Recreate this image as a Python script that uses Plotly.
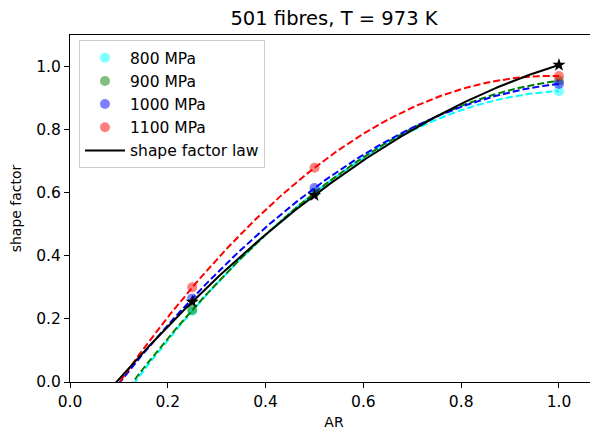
import numpy as np
import plotly.graph_objects as go

AR = [0.25, 0.5, 1.0]
labels = ["800 MPa", "900 MPa", "1000 MPa", "1100 MPa"]
colors = ["cyan", "green", "blue", "red"]
sf_800 = [0.225, 0.600, 0.922]
sf_900 = [0.228, 0.600, 0.955]
sf_1000 = [0.265, 0.615, 0.945]
sf_1100 = [0.300, 0.679, 0.970]
law_vals = [0.254, 0.592, 1.005]
series = [sf_800, sf_900, sf_1000, sf_1100]

x_fit = np.linspace(0, 1, 200)

fig = go.Figure()
for lab, col, vals in zip(labels, colors, series):
    fig.add_trace(go.Scatter(x=AR, y=vals, mode="markers", name=lab,
                             marker=dict(color=col, size=10, opacity=0.5, line=dict(width=0))))
    coef = np.polyfit(AR, vals, 2)
    fig.add_trace(go.Scatter(x=x_fit, y=np.polyval(coef, x_fit), mode="lines", showlegend=False,
                             line=dict(color=col, width=2, dash="7px,3px")))

coef = np.polyfit(AR, law_vals, 2)
fig.add_trace(go.Scatter(x=x_fit, y=np.polyval(coef, x_fit), mode="lines", name="shape factor law",
                         line=dict(color="black", width=2)))
fig.add_trace(go.Scatter(x=AR, y=law_vals, mode="markers", showlegend=False,
                         marker=dict(color="black", symbol="star", size=10)))

axis_common = dict(showgrid=False, zeroline=False, showline=True, linecolor="black", linewidth=1,
                   ticks="outside", ticklen=5, tickcolor="black", tickfont=dict(size=15.5, color="black"),
                   tickformat=".1f", automargin=False)
fig.update_layout(
    width=590, height=424,
    margin=dict(l=62, r=0, t=27, b=50),
    paper_bgcolor="white", plot_bgcolor="white",
    font=dict(family="DejaVu Sans", color="black", size=15.5),
    title=dict(text="501 fibres, T = 973 K", x=0.5, xref="paper", y=0.975, yanchor="middle",
               font=dict(size=19.5)),
    xaxis=dict(range=[0, 1.0798], dtick=0.2, mirror=True,
               title=dict(text="AR", standoff=7, font=dict(size=14)), **axis_common),
    yaxis=dict(range=[0, 1.1], dtick=0.2,
               title=dict(text="shape factor", standoff=11, font=dict(size=14)), **axis_common),
    legend=dict(x=0.017, y=0.985, xanchor="left", yanchor="top", bgcolor="white",
                bordercolor="#cccccc", borderwidth=1, font=dict(size=15.5), itemwidth=40),
)
fig.write_html("out.html")
